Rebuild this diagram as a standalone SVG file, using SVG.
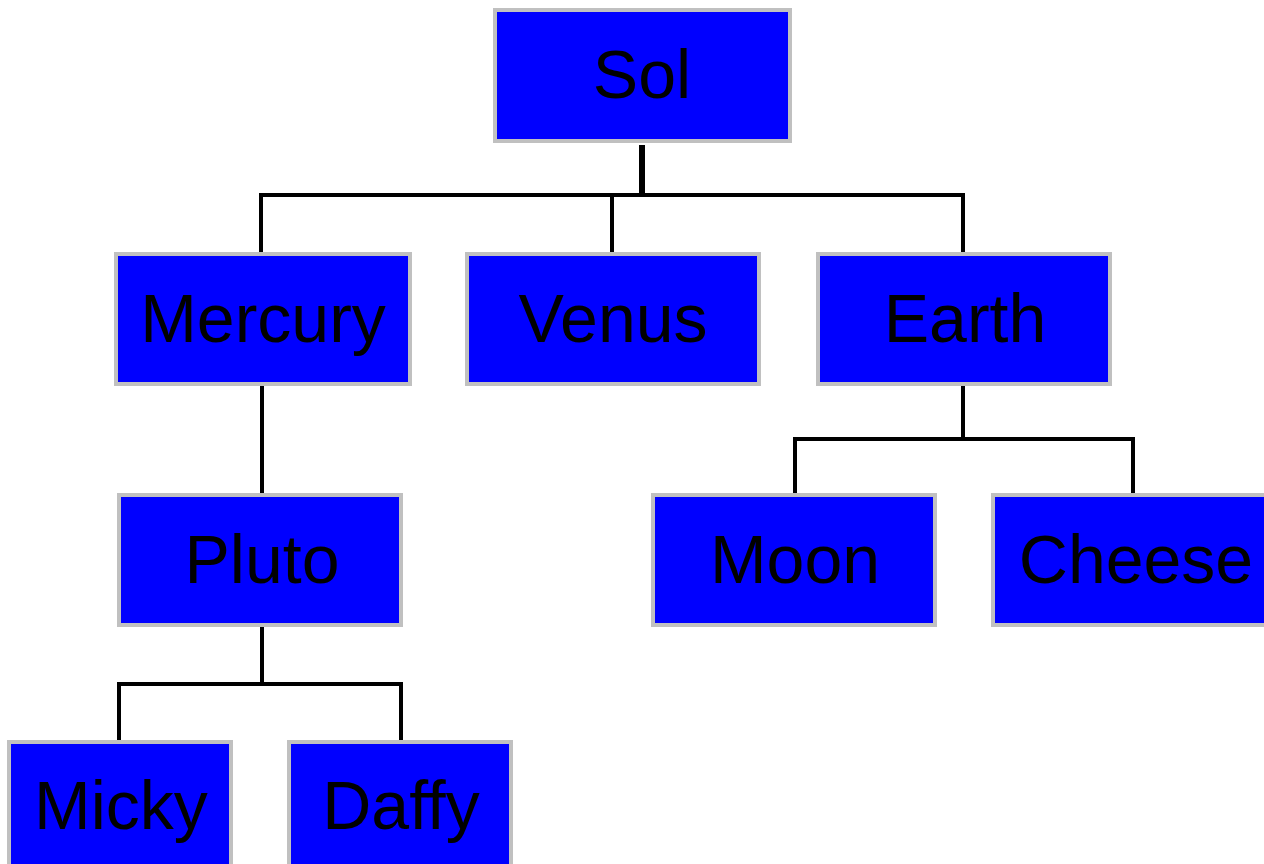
<svg xmlns="http://www.w3.org/2000/svg" width="1264" height="864" viewBox="0 0 1264 864">
<style>
.box{fill:#0000ff;stroke:#c0c0c0;stroke-width:4}
.lbl{font-family:"Liberation Sans",Arial,sans-serif;font-size:68px;fill:#000;text-anchor:middle}
.con{fill:none;stroke:#000;stroke-width:4;stroke-linecap:square;stroke-linejoin:miter}
</style>
<rect width="1264" height="864" fill="#fff"/>
<g id="connectors">
<path class="con" d="M642 145V195" style="stroke-width:6;stroke-linecap:butt"/>
<path class="con" d="M261 252V195H963V252M612 195V252"/>
<path class="con" d="M262 388V492"/>
<path class="con" d="M262 629V684M119 739V684H401V739"/>
<path class="con" d="M963 388V439M795 492V439H1133V492"/>
</g>
<g id="sol"><rect class="box" x="495" y="10" width="295" height="131"/><text class="lbl" x="642" y="98">Sol</text></g>
<g id="mercury"><rect class="box" x="116" y="254" width="294" height="130"/><text class="lbl" x="263" y="342">Mercury</text></g>
<g id="venus"><rect class="box" x="467" y="254" width="292" height="130"/><text class="lbl" x="613" y="342">Venus</text></g>
<g id="earth"><rect class="box" x="818" y="254" width="292" height="130"/><text class="lbl" x="965" y="342">Earth</text></g>
<g id="pluto"><rect class="box" x="119" y="495" width="282" height="130"/><text class="lbl" x="262" y="583">Pluto</text></g>
<g id="moon"><rect class="box" x="653" y="495" width="282" height="130"/><text class="lbl" x="795" y="583">Moon</text></g>
<g id="cheese"><rect class="box" x="993" y="495" width="290" height="130"/><text class="lbl" x="1136" y="583">Cheese</text></g>
<g id="micky"><rect class="box" x="9" y="742" width="222" height="130"/><text class="lbl" x="121" y="829">Micky</text></g>
<g id="daffy"><rect class="box" x="289" y="742" width="222" height="130"/><text class="lbl" x="401" y="829">Daffy</text></g>
</svg>
